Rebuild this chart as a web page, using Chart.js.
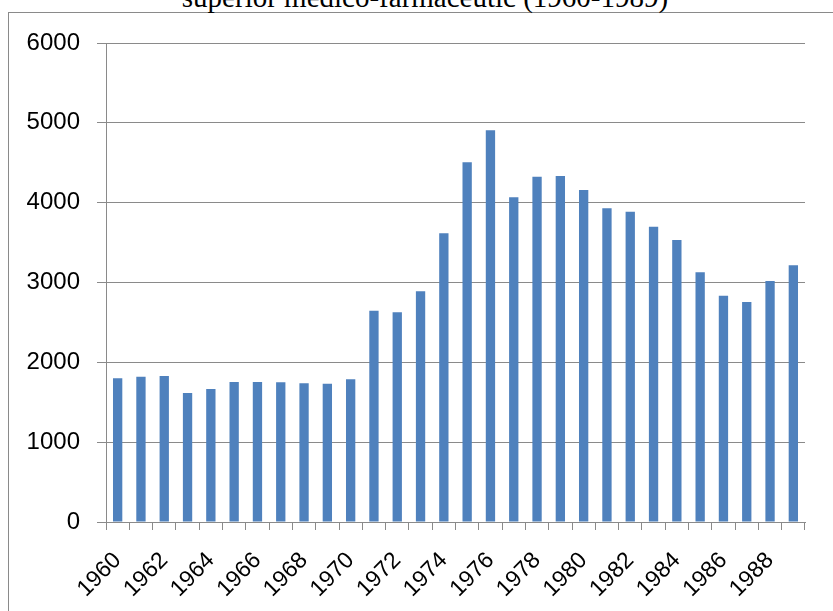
<!DOCTYPE html>
<html>
<head>
<meta charset="utf-8">
<script src="https://cdn.jsdelivr.net/npm/chart.js@4"></script>
<style>
    html, body { margin: 0; padding: 0; background: #fff; overflow: hidden; }
    body { width: 833px; height: 611px; position: relative; }
    #frame { position: absolute; left: 8px; top: 12px; width: 900px; height: 700px; border: 1px solid #8a8a8a; }
    #title { position: absolute; left: 0; top: -17px; width: 850px; text-align: center; white-space: nowrap;
        font: 29px/29px 'Liberation Serif', serif; color: #000; }
    #wrap { position: absolute; left: 0; top: 0; width: 833px; height: 611px; }
</style>
</head>
<body>
<div id="frame"></div>
<div id="title"></div>
<div id="wrap"><canvas id="chart"></canvas></div>
<script>
const years = ['1960', '1961', '1962', '1963', '1964', '1965', '1966', '1967', '1968', '1969',
    '1970', '1971', '1972', '1973', '1974', '1975', '1976', '1977', '1978', '1979',
    '1980', '1981', '1982', '1983', '1984', '1985', '1986', '1987', '1988', '1989'];
const values = [1800, 1820, 1830, 1615, 1665, 1755, 1755, 1750, 1737, 1733,
    1788, 2647, 2627, 2890, 3616, 4506, 4906, 4067, 4326, 4334,
    4159, 3929, 3887, 3699, 3532, 3128, 2835, 2756, 3019, 3216];
const yTicks = [0, 1000, 2000, 3000, 4000, 5000, 6000];
const titleText = 'superior medico-farmaceutic (1960-1989)';

const gridColor = '#8a8a8a';

// title sits above the chart frame and is cut by the page top, so it is plain text
document.getElementById('title').textContent = titleText;

const ctx = document.getElementById('chart').getContext('2d');
new Chart(ctx, {
    type: 'bar',
    data: {
        labels: years,
        datasets: [{
            data: values,
            backgroundColor: '#4f81bd',
            barPercentage: 0.4,
            categoryPercentage: 1
        }]
    },
    options: {
        responsive: true,
        maintainAspectRatio: false,
        animation: false,
        layout: { padding: { left: 0, right: 28, top: 43, bottom: 0 } },
        plugins: {
            legend: { display: false },
            tooltip: { enabled: false }
        },
        scales: {
            x: {
                grid: { display: true, drawOnChartArea: false, drawTicks: true, tickLength: 8, color: gridColor, lineWidth: 1 },
                border: { display: true, color: gridColor, width: 1 },
                ticks: {
                    autoSkip: false,
                    minRotation: 45,
                    maxRotation: 45,
                    padding: 17,
                    color: '#000',
                    font: { family: 'Liberation Sans', size: 23 },
                    callback: (v, i) => (i % 2 === 0 ? years[i] : '')
                },
                afterFit: (scale) => { scale.height = 89; }
            },
            y: {
                min: 0,
                max: 6000,
                afterBuildTicks: (scale) => { scale.ticks = yTicks.map(v => ({ value: v })); },
                grid: { color: gridColor, lineWidth: 1, tickLength: 9 },
                border: { display: true, color: gridColor, width: 1 },
                ticks: {
                    padding: 17,
                    color: '#000',
                    font: { family: 'Liberation Sans', size: 24 },
                    callback: (v) => String(v)
                },
                afterFit: (scale) => { scale.width = 106; }
            }
        }
    }
});
</script>
</body>
</html>
